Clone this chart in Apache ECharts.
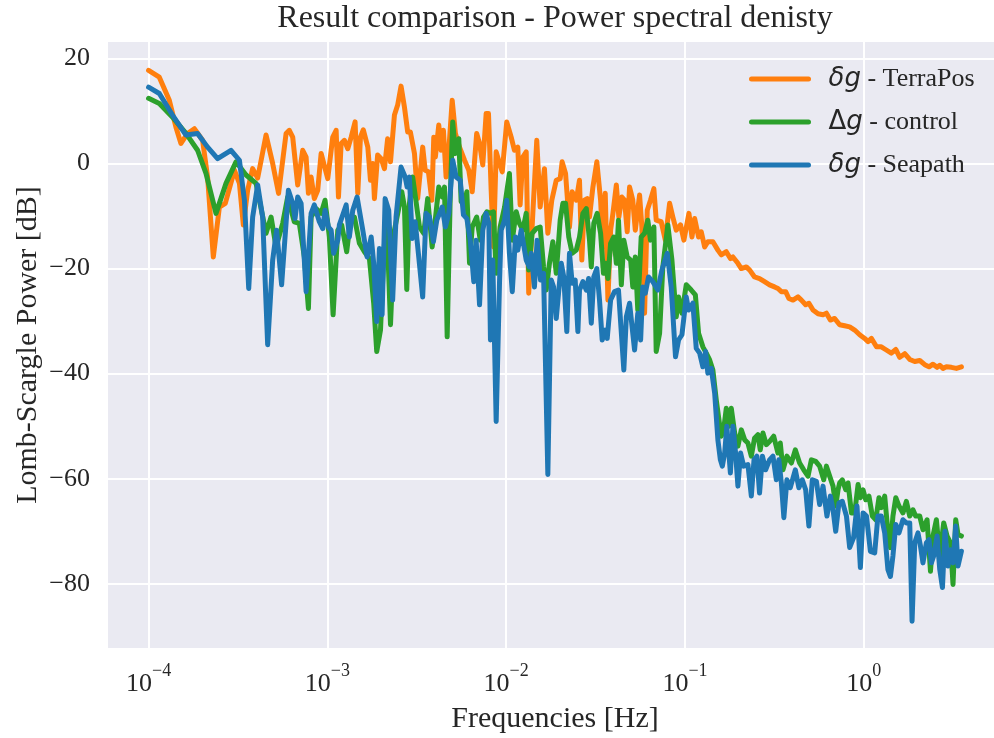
<!DOCTYPE html>
<html><head><meta charset="utf-8">
<script src="https://cdn.jsdelivr.net/npm/echarts@6/dist/echarts.min.js"></script>
<style>html,body{margin:0;padding:0;background:#fff}#c{width:994px;height:738px}</style>
</head><body><div id="c"></div>
<script>
// x values are log10(frequency / Hz), y values are Lomb-Scargle power in dB
const xTickExponents = [-4, -3, -2, -1, 0];
const yTicks = [-80, -60, -40, -20, 0, 20];
const seriesNames = ['δg - TerraPos', 'Δg - control', 'δg - Seapath'];

const terraPos = [[-4.000,17.7],[-3.940,16.4],[-3.884,12.0],[-3.847,6.9],[-3.819,3.8],[-3.782,5.7],[-3.744,6.6],[-3.698,4.4],[-3.670,-2.6],[-3.638,-17.8],[-3.604,-8.3],[-3.571,-7.6],[-3.520,-1.3],[-3.492,-3.8],[-3.470,-11.7],[-3.446,-5.1],[-3.418,-1.0],[-3.390,-2.8],[-3.343,5.4],[-3.306,0.0],[-3.273,-5.7],[-3.231,5.7],[-3.213,6.3],[-3.194,5.0],[-3.166,-4.1],[-3.138,2.5],[-3.119,1.2],[-3.106,-5.7],[-3.091,-2.6],[-3.073,-6.7],[-3.054,-5.1],[-3.035,1.9],[-3.026,2.2],[-2.998,-2.9],[-2.970,5.0],[-2.951,6.3],[-2.938,-6.4],[-2.923,3.8],[-2.905,4.4],[-2.886,2.8],[-2.867,5.0],[-2.845,7.9],[-2.830,-5.7],[-2.815,5.0],[-2.799,6.4],[-2.774,3.1],[-2.759,-3.2],[-2.746,0.0],[-2.737,-6.7],[-2.719,1.6],[-2.699,0.9],[-2.681,-1.0],[-2.663,4.7],[-2.647,0.3],[-2.625,9.2],[-2.607,11.1],[-2.588,14.7],[-2.569,10.7],[-2.551,6.0],[-2.536,6.0],[-2.513,1.9],[-2.495,-6.7],[-2.467,3.1],[-2.453,-1.3],[-2.435,-1.6],[-2.416,-7.0],[-2.405,5.0],[-2.396,1.2],[-2.377,7.3],[-2.364,2.5],[-2.351,6.3],[-2.336,-2.6],[-2.321,2.5],[-2.302,12.0],[-2.284,5.7],[-2.261,3.1],[-2.233,0.6],[-2.209,-1.3],[-2.190,-5.4],[-2.165,5.7],[-2.149,3.8],[-2.131,-0.3],[-2.112,9.5],[-2.099,9.5],[-2.084,-5.1],[-2.071,-15.9],[-2.056,2.2],[-2.037,0.0],[-2.022,-1.6],[-1.997,7.9],[-1.972,5.0],[-1.954,2.5],[-1.935,3.1],[-1.922,-7.9],[-1.907,1.2],[-1.888,2.2],[-1.874,-24.7],[-1.851,-9.5],[-1.829,4.4],[-1.810,-8.3],[-1.786,-1.0],[-1.767,-13.3],[-1.745,-7.0],[-1.720,-3.2],[-1.698,-2.9],[-1.687,0.3],[-1.668,-1.9],[-1.646,-12.1],[-1.631,-5.4],[-1.608,-7.0],[-1.590,-3.2],[-1.577,-18.4],[-1.562,-7.0],[-1.547,-6.7],[-1.534,-10.2],[-1.515,-4.5],[-1.493,0.3],[-1.472,-7.0],[-1.459,-15.9],[-1.446,-5.7],[-1.431,-26.0],[-1.416,-12.7],[-1.403,-9.5],[-1.384,-4.1],[-1.370,-10.2],[-1.353,-6.4],[-1.338,-7.0],[-1.323,-13.0],[-1.310,-4.5],[-1.292,-7.0],[-1.278,-12.7],[-1.254,-6.0],[-1.241,-12.1],[-1.226,-28.5],[-1.211,-8.9],[-1.193,-7.0],[-1.174,-4.8],[-1.161,-10.8],[-1.133,-11.1],[-1.110,-14.6],[-1.086,-7.6],[-1.068,-10.2],[-1.049,-12.7],[-1.025,-11.7],[-1.006,-14.6],[-0.978,-9.5],[-0.961,-14.0],[-0.946,-10.5],[-0.924,-14.0],[-0.909,-13.0],[-0.890,-15.9],[-0.872,-14.9],[-0.844,-14.9],[-0.816,-16.5],[-0.797,-17.4],[-0.769,-16.8],[-0.746,-18.1],[-0.732,-17.8],[-0.704,-19.0],[-0.685,-20.0],[-0.657,-19.7],[-0.638,-20.3],[-0.611,-21.6],[-0.583,-21.9],[-0.555,-22.5],[-0.527,-23.1],[-0.499,-23.5],[-0.480,-23.8],[-0.461,-24.4],[-0.437,-24.4],[-0.419,-25.7],[-0.396,-26.0],[-0.368,-25.4],[-0.349,-26.0],[-0.325,-26.9],[-0.307,-26.6],[-0.284,-27.9],[-0.256,-28.6],[-0.228,-28.8],[-0.209,-28.5],[-0.187,-29.8],[-0.163,-29.5],[-0.135,-30.7],[-0.107,-30.9],[-0.079,-31.1],[-0.051,-31.7],[-0.023,-32.6],[0.005,-33.3],[0.024,-33.9],[0.043,-33.3],[0.071,-34.9],[0.098,-34.9],[0.126,-35.5],[0.154,-36.1],[0.179,-35.4],[0.201,-36.9],[0.229,-36.2],[0.257,-37.3],[0.285,-37.7],[0.313,-37.5],[0.341,-38.3],[0.365,-38.7],[0.387,-38.2],[0.410,-38.8],[0.425,-38.4],[0.443,-39.0],[0.462,-38.7],[0.490,-38.8],[0.518,-39.0],[0.546,-38.7]];

const control = [[-4.000,12.4],[-3.940,11.4],[-3.866,8.8],[-3.791,5.7],[-3.726,2.5],[-3.679,-1.9],[-3.623,-9.5],[-3.567,-3.8],[-3.511,0.3],[-3.455,-2.2],[-3.399,-3.8],[-3.343,-13.3],[-3.315,-10.2],[-3.287,-15.9],[-3.250,-11.4],[-3.222,-6.4],[-3.185,-11.1],[-3.157,-11.4],[-3.129,-17.8],[-3.106,-27.6],[-3.091,-10.2],[-3.063,-8.6],[-3.035,-9.5],[-3.013,-7.0],[-2.989,-14.0],[-2.968,-28.8],[-2.942,-12.7],[-2.920,-11.7],[-2.892,-16.8],[-2.873,-11.4],[-2.849,-10.2],[-2.821,-15.2],[-2.793,-16.8],[-2.765,-18.1],[-2.741,-26.6],[-2.724,-35.8],[-2.703,-31.7],[-2.685,-17.8],[-2.670,-8.9],[-2.647,-30.7],[-2.625,-12.7],[-2.603,-8.9],[-2.584,-5.4],[-2.569,-8.3],[-2.556,-24.0],[-2.541,-7.6],[-2.523,-2.6],[-2.504,-7.3],[-2.485,-12.1],[-2.461,-13.3],[-2.439,-6.7],[-2.414,-15.9],[-2.401,-12.1],[-2.377,-4.5],[-2.358,-6.4],[-2.345,-4.5],[-2.330,-33.0],[-2.313,-6.4],[-2.299,7.9],[-2.284,1.9],[-2.265,4.7],[-2.252,-7.3],[-2.233,-7.6],[-2.220,-5.4],[-2.205,-19.0],[-2.190,-12.1],[-2.165,-10.2],[-2.145,-14.6],[-2.127,-10.2],[-2.108,-9.2],[-2.090,-9.5],[-2.071,-9.2],[-2.056,-20.9],[-2.034,-12.1],[-2.009,-8.3],[-1.982,-1.9],[-1.966,-14.6],[-1.944,-9.2],[-1.926,-11.4],[-1.907,-12.7],[-1.888,-9.5],[-1.874,-20.3],[-1.855,-13.3],[-1.832,-12.4],[-1.810,-12.1],[-1.791,-19.7],[-1.776,-24.1],[-1.758,-19.0],[-1.739,-14.9],[-1.720,-20.9],[-1.698,-10.8],[-1.683,-7.6],[-1.668,-7.6],[-1.650,-14.0],[-1.631,-17.1],[-1.608,-16.5],[-1.590,-14.0],[-1.571,-9.5],[-1.552,-8.6],[-1.534,-14.6],[-1.524,-19.7],[-1.510,-11.4],[-1.491,-9.5],[-1.472,-13.3],[-1.456,-20.9],[-1.444,-19.0],[-1.431,-21.9],[-1.416,-15.2],[-1.398,-14.0],[-1.384,-19.0],[-1.372,-10.8],[-1.356,-23.1],[-1.342,-14.6],[-1.323,-17.8],[-1.304,-18.4],[-1.292,-23.5],[-1.278,-17.8],[-1.264,-27.9],[-1.245,-14.0],[-1.226,-13.3],[-1.208,-10.8],[-1.193,-14.6],[-1.174,-12.1],[-1.161,-35.8],[-1.142,-32.3],[-1.124,-19.7],[-1.096,-11.7],[-1.073,-18.4],[-1.049,-29.2],[-1.036,-25.4],[-1.017,-28.5],[-0.993,-23.1],[-0.965,-24.1],[-0.942,-25.0],[-0.924,-32.3],[-0.900,-34.9],[-0.881,-36.1],[-0.862,-37.4],[-0.844,-39.3],[-0.825,-45.0],[-0.810,-48.8],[-0.797,-51.9],[-0.784,-50.7],[-0.769,-46.6],[-0.754,-50.0],[-0.741,-46.6],[-0.722,-51.3],[-0.704,-53.8],[-0.685,-50.7],[-0.666,-52.6],[-0.648,-53.2],[-0.629,-55.7],[-0.611,-52.3],[-0.592,-51.6],[-0.579,-54.5],[-0.564,-51.3],[-0.545,-53.5],[-0.527,-52.9],[-0.504,-51.9],[-0.480,-55.1],[-0.467,-53.2],[-0.452,-58.3],[-0.430,-55.7],[-0.405,-57.0],[-0.383,-54.5],[-0.359,-57.0],[-0.336,-58.3],[-0.312,-59.5],[-0.293,-56.4],[-0.269,-56.7],[-0.247,-57.6],[-0.224,-60.2],[-0.209,-57.6],[-0.191,-59.5],[-0.172,-61.4],[-0.157,-65.2],[-0.144,-62.1],[-0.135,-60.8],[-0.120,-60.2],[-0.101,-62.1],[-0.088,-60.8],[-0.069,-66.5],[-0.051,-66.5],[-0.032,-61.1],[-0.019,-63.6],[-0.004,-62.1],[0.011,-64.0],[0.029,-63.3],[0.048,-67.1],[0.067,-67.8],[0.085,-63.6],[0.098,-65.5],[0.117,-63.3],[0.132,-69.0],[0.149,-73.1],[0.163,-67.1],[0.179,-63.6],[0.197,-65.2],[0.219,-66.5],[0.238,-64.3],[0.257,-67.1],[0.275,-65.9],[0.290,-67.1],[0.313,-67.1],[0.331,-69.7],[0.354,-67.8],[0.373,-77.6],[0.387,-70.9],[0.406,-67.8],[0.425,-74.7],[0.447,-68.4],[0.466,-70.9],[0.485,-72.2],[0.499,-80.1],[0.514,-67.8],[0.527,-70.6],[0.546,-70.9]];

const seapath = [[-4.000,14.5],[-3.940,13.3],[-3.866,9.2],[-3.791,5.4],[-3.726,5.7],[-3.670,3.1],[-3.614,0.9],[-3.539,2.5],[-3.492,0.6],[-3.464,-7.0],[-3.440,-23.8],[-3.418,-10.2],[-3.390,-4.1],[-3.362,-10.2],[-3.334,-34.5],[-3.306,-18.4],[-3.284,-12.7],[-3.256,-23.1],[-3.218,-5.1],[-3.194,-7.6],[-3.181,-10.5],[-3.166,-6.4],[-3.147,-7.6],[-3.119,-24.4],[-3.091,-9.5],[-3.073,-7.9],[-3.045,-11.1],[-3.026,-12.4],[-3.013,-8.9],[-2.994,-12.1],[-2.979,-12.7],[-2.965,-17.1],[-2.942,-14.6],[-2.933,-11.7],[-2.895,-7.9],[-2.877,-14.0],[-2.858,-8.9],[-2.834,-6.4],[-2.802,-12.7],[-2.778,-17.8],[-2.755,-14.0],[-2.741,-19.0],[-2.724,-30.1],[-2.709,-16.2],[-2.694,-28.8],[-2.677,-6.7],[-2.657,-8.9],[-2.635,-26.0],[-2.616,-10.2],[-2.588,-0.7],[-2.565,-2.6],[-2.554,-4.5],[-2.541,-2.6],[-2.526,-14.3],[-2.509,-11.1],[-2.489,-17.8],[-2.467,-25.4],[-2.448,-9.5],[-2.429,-10.2],[-2.407,-14.9],[-2.388,-10.8],[-2.358,-8.3],[-2.340,-12.1],[-2.321,-9.5],[-2.299,0.6],[-2.280,-2.6],[-2.257,-3.2],[-2.239,-9.8],[-2.220,-10.5],[-2.201,-14.6],[-2.181,-22.5],[-2.168,-14.6],[-2.149,-26.9],[-2.131,-12.7],[-2.112,-9.5],[-2.097,-11.4],[-2.088,-33.6],[-2.075,-18.4],[-2.056,-49.1],[-2.037,-22.2],[-2.028,-12.7],[-2.009,-10.8],[-1.997,-7.0],[-1.982,-17.1],[-1.966,-24.4],[-1.948,-14.0],[-1.935,-16.5],[-1.916,-12.7],[-1.888,-18.4],[-1.870,-19.7],[-1.860,-17.1],[-1.842,-23.5],[-1.827,-14.6],[-1.808,-22.2],[-1.791,-20.9],[-1.767,-59.2],[-1.748,-22.2],[-1.735,-23.5],[-1.720,-29.5],[-1.692,-19.0],[-1.678,-21.6],[-1.661,-32.0],[-1.646,-17.1],[-1.631,-22.8],[-1.614,-22.2],[-1.599,-32.0],[-1.590,-24.1],[-1.571,-22.5],[-1.552,-24.1],[-1.539,-21.9],[-1.524,-30.4],[-1.510,-21.6],[-1.493,-20.0],[-1.478,-26.0],[-1.463,-33.6],[-1.446,-31.7],[-1.435,-33.3],[-1.416,-26.0],[-1.394,-24.4],[-1.372,-24.1],[-1.342,-39.3],[-1.328,-29.2],[-1.310,-26.6],[-1.282,-35.5],[-1.264,-28.5],[-1.248,-33.6],[-1.236,-23.5],[-1.222,-24.7],[-1.204,-21.6],[-1.180,-22.5],[-1.152,-24.1],[-1.129,-20.3],[-1.099,-17.1],[-1.077,-23.5],[-1.053,-36.8],[-1.036,-33.6],[-1.017,-32.6],[-0.993,-25.4],[-0.980,-27.9],[-0.956,-26.6],[-0.937,-35.2],[-0.918,-36.1],[-0.900,-38.7],[-0.885,-35.8],[-0.872,-39.9],[-0.853,-39.0],[-0.834,-43.7],[-0.816,-52.6],[-0.802,-56.4],[-0.791,-57.6],[-0.778,-55.1],[-0.766,-50.0],[-0.746,-58.9],[-0.732,-50.0],[-0.717,-55.1],[-0.704,-61.4],[-0.689,-55.1],[-0.672,-57.6],[-0.648,-57.3],[-0.629,-63.3],[-0.614,-56.4],[-0.598,-55.7],[-0.583,-62.7],[-0.567,-55.7],[-0.549,-58.3],[-0.527,-56.4],[-0.508,-55.7],[-0.489,-60.2],[-0.475,-56.4],[-0.461,-60.8],[-0.447,-67.4],[-0.430,-60.2],[-0.411,-61.7],[-0.383,-58.3],[-0.363,-61.7],[-0.344,-60.2],[-0.325,-62.1],[-0.307,-69.0],[-0.288,-60.2],[-0.265,-60.5],[-0.247,-64.9],[-0.228,-61.4],[-0.206,-67.1],[-0.187,-63.3],[-0.172,-65.9],[-0.157,-70.0],[-0.139,-64.6],[-0.120,-64.3],[-0.097,-67.1],[-0.079,-73.1],[-0.057,-71.2],[-0.038,-65.2],[-0.019,-76.9],[-0.004,-66.5],[0.015,-67.1],[0.037,-73.8],[0.061,-74.1],[0.079,-67.1],[0.098,-67.1],[0.117,-70.3],[0.135,-77.3],[0.149,-78.6],[0.163,-74.7],[0.179,-68.7],[0.197,-70.3],[0.219,-67.8],[0.238,-68.4],[0.257,-68.4],[0.270,-87.1],[0.285,-72.2],[0.303,-70.3],[0.317,-72.8],[0.331,-76.0],[0.350,-72.2],[0.365,-71.6],[0.378,-76.0],[0.391,-74.7],[0.410,-70.9],[0.425,-77.3],[0.440,-80.7],[0.454,-70.0],[0.471,-76.6],[0.485,-73.5],[0.499,-76.0],[0.514,-69.0],[0.527,-76.6],[0.546,-73.8]];

const seriesData = [terraPos, control, seapath];
const seriesColors = ['#ff7f0e', '#2ca02c', '#1f77b4'];

const serif = '"Liberation Serif","Times New Roman",Times,serif';
const ink = '#262626';
const minus = v => (v < 0 ? '\u2212' + (-v) : String(v));

function legendFormatter(name) {
  if (name === seriesNames[0]) return '{m|δg}{t| - TerraPos}';
  if (name === seriesNames[1]) return '{u|Δ}{g|g}{t| - control}';
  return '{m|δg}{t| - Seapath}';
}

const chart = echarts.init(document.getElementById('c'), null, { renderer: 'canvas' });
chart.setOption({
  animation: false,
  backgroundColor: '#ffffff',
  title: {
    text: 'Result comparison - Power spectral denisty',
    left: 555, top: 3, textAlign: 'center', padding: 0,
    textStyle: { fontFamily: serif, fontSize: 32, fontWeight: 'normal', color: ink, lineHeight: 32 }
  },
  grid: {
    left: 108, top: 42, right: -8, bottom: 90,
    outerBoundsMode: 'none', containLabel: false,
    show: true, backgroundColor: '#EAEAF2', borderWidth: 0
  },
  legend: {
    orient: 'vertical', left: 749, top: 66, padding: 0,
    itemWidth: 57, itemHeight: 4, itemGap: 17,
    data: seriesNames,
    formatter: legendFormatter,
    itemStyle: { opacity: 0 },
    lineStyle: { width: 5, cap: 'round' },
    textStyle: {
      color: ink,
      rich: {
        m: { fontFamily: '"DejaVu Sans"', fontStyle: 'italic', fontSize: 26, lineHeight: 30, color: ink, padding: [0, 0, 0, 15] },
        u: { fontFamily: '"DejaVu Sans"', fontSize: 26, lineHeight: 30, color: ink, padding: [0, 0, 0, 15] },
        g: { fontFamily: '"DejaVu Sans"', fontStyle: 'italic', fontSize: 26, lineHeight: 30, color: ink },
        t: { fontFamily: serif, fontSize: 26, lineHeight: 30, color: ink }
      }
    }
  },
  xAxis: {
    type: 'value', min: -4.227, max: 0.773,
    axisLine: { show: false },
    axisTick: { show: false, customValues: xTickExponents },
    axisLabel: {
      customValues: xTickExponents, margin: 14,
      formatter: v => '{b|10}{s|' + minus(v) + '}',
      rich: {
        b: { fontFamily: serif, fontSize: 26, lineHeight: 35, verticalAlign: 'bottom', color: ink },
        s: { fontFamily: serif, fontSize: 18, lineHeight: 18, verticalAlign: 'top', color: ink }
      }
    },
    splitLine: { show: true, lineStyle: { color: '#ffffff', width: 2 } },
    name: 'Frequencies [Hz]', nameLocation: 'middle', nameGap: 56, nameMoveOverlap: false,
    nameTextStyle: { fontFamily: serif, fontSize: 30, color: ink, lineHeight: 30 }
  },
  yAxis: {
    type: 'value', min: -92.2, max: 23.1,
    axisLine: { show: false },
    axisTick: { show: false, customValues: yTicks },
    axisLabel: {
      customValues: yTicks, margin: 18,
      formatter: v => minus(v),
      fontFamily: serif, fontSize: 26, color: ink
    },
    splitLine: { show: true, lineStyle: { color: '#ffffff', width: 2 } },
    name: 'Lomb-Scargle Power [dB]', nameLocation: 'middle', nameGap: 65, nameMoveOverlap: false,
    nameTextStyle: { fontFamily: serif, fontSize: 30, color: ink, lineHeight: 30 }
  },
  series: seriesNames.map((name, i) => ({
    name: name,
    type: 'line',
    data: seriesData[i],
    symbol: 'none',
    showSymbol: false,
    lineStyle: { color: seriesColors[i], width: 5, cap: 'round', join: 'round' },
    itemStyle: { color: seriesColors[i] }
  }))
});
</script>
</body></html>
